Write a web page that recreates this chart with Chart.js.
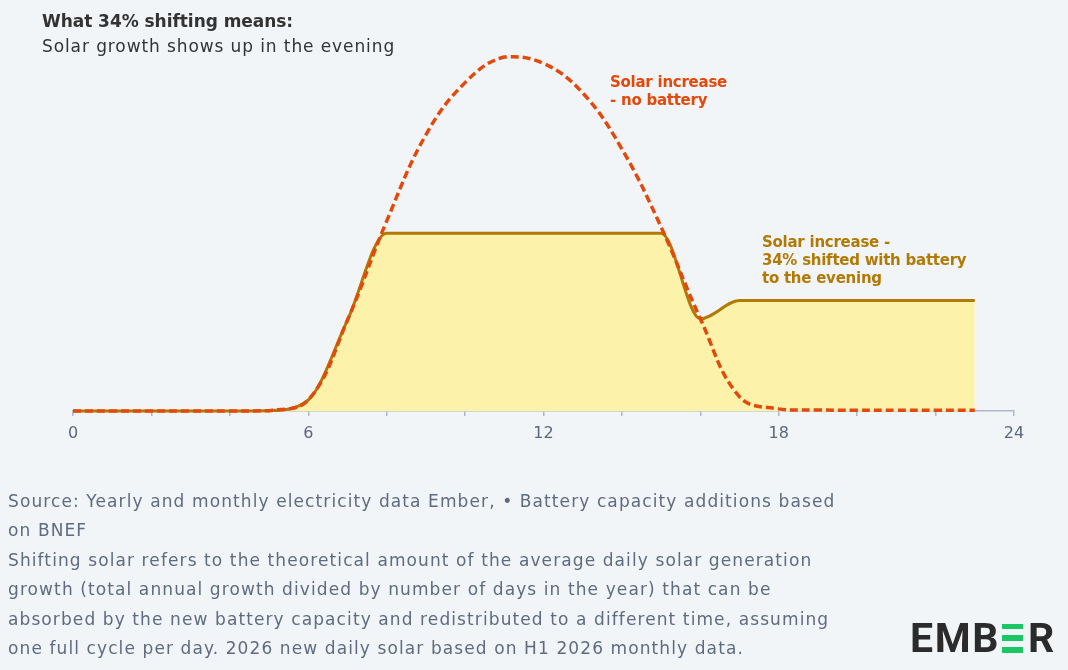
<!DOCTYPE html>
<html>
<head>
<meta charset="utf-8">
<script src="https://cdn.jsdelivr.net/npm/chart.js@4.4.1/dist/chart.umd.min.js"></script>
<style>
  html, body { margin: 0; padding: 0; background: #F1F5F8; }
  body { width: 1068px; height: 670px; position: relative; overflow: hidden; font-family: "DejaVu Sans", sans-serif; }
  #wrap { position: absolute; left: 0; top: 0; width: 1068px; height: 670px; }
  .title { position: absolute; left: 42px; top: 9px; font-size: 17px; color: #333333; line-height: 25px; letter-spacing: 0.9px; white-space: nowrap; }
  .title b { font-weight: 700; letter-spacing: -0.05px; }
  .note { position: absolute; font-size: 15px; font-weight: 700; line-height: 18px; letter-spacing: -0.25px; }
  #noteRed { left: 610px; top: 73px; color: #E2490B; }
  #noteBrown { left: 762px; top: 233px; color: #B27A05; }
  .foot { position: absolute; left: 8px; top: 487px; font-size: 17px; color: #5F6B80; line-height: 29.4px; letter-spacing: 1.1px; white-space: nowrap; }
  #logo { position: absolute; left: 910px; top: 615px; display: flex; align-items: center; font-family: "Roboto", sans-serif; font-weight: 700; font-size: 41px; color: #2B2B2B; letter-spacing: 1.6px; line-height: 46px; }
  #logo .bars { display: inline-flex; flex-direction: column; justify-content: space-between; width: 21px; height: 29px; margin: 0 5px 0 2px; }
  #logo .bars i { display: block; height: 5.5px; background: #19C864; }
</style>
</head>
<body>
<div id="wrap"><canvas id="c" width="1068" height="670"></canvas></div>
<div class="title"><b>What 34% shifting means:</b><br>Solar growth shows up in the evening</div>
<div class="note" id="noteRed">Solar increase<br>- no battery</div>
<div class="note" id="noteBrown">Solar increase -<br>34% shifted with battery<br>to the evening</div>
<div class="foot">Source: Yearly and monthly electricity data Ember, • Battery capacity additions based<br>on BNEF<br>Shifting solar refers to the theoretical amount of the average daily solar generation<br>growth (total annual growth divided by number of days in the year) that can be<br>absorbed by the new battery capacity and redistributed to a different time, assuming<br>one full cycle per day. 2026 new daily solar based on H1 2026 monthly data.</div>
<div id="logo"><span>EMB</span><span class="bars"><i></i><i></i><i></i></span><span>R</span></div>
<script>
// heures de la journée
const hours = [0, 1, 2, 3, 4, 5, 6, 7, 8, 9, 10, 11, 12, 13, 14, 15, 16, 17, 18, 19, 20, 21, 22, 23];
// solar increase, no battery (relative units)
const noBattery = [0, 0, 0, 0, 0, 0.1, 3.1, 25.6, 53.5, 77.8, 92.5, 99.7, 97.9, 89.6, 73.8, 51.8, 26.0, 4.0, 0.6, 0.3, 0.2, 0.2, 0.2, 0.2];
// solar increase, 34% shifted with battery
const withBattery = [0, 0, 0, 0, 0, 0.1, 3.1, 25.6, 50.1, 50.1, 50.1, 50.1, 50.1, 50.1, 50.1, 50.1, 26.0, 31.1, 31.1, 31.1, 31.1, 31.1, 31.1, 31.1];
const tickLabels = [0, 6, 12, 18, 24];

const toPoints = arr => hours.map((h, i) => ({ x: h, y: arr[i] }));

new Chart(document.getElementById("c"), {
    type: "line",
    data: {
        datasets: [
            {
                label: "Solar increase - no battery",
                data: toPoints(noBattery),
                borderColor: "#E2490B",
                borderWidth: 3.5,
                borderDash: [8, 4],
                pointRadius: 0,
                fill: false,
                tension: 0.4,
                clip: false,
                order: 0
            },
            {
                label: "Solar increase - 34% shifted",
                data: toPoints(withBattery),
                borderColor: "#B27A05",
                borderWidth: 3,
                backgroundColor: "#FDF2AA",
                pointRadius: 0,
                fill: "origin",
                cubicInterpolationMode: "monotone",
                clip: false,
                order: 1
            }
        ]
    },
    options: {
        responsive: false,
        animation: false,
        devicePixelRatio: 1,
        layout: { padding: { left: 73, right: 54, top: 56, bottom: 229 } },
        plugins: { legend: { display: false }, tooltip: { enabled: false } },
        scales: {
            x: {
                type: "linear",
                min: 0,
                max: 24,
                grid: { drawOnChartArea: false, color: "#AEB7C5", tickLength: 5, lineWidth: 1.5 },
                border: { display: true, color: "#AEB7C5", width: 1.5 },
                ticks: {
                    stepSize: 2,
                    color: "#5C6780",
                    font: { family: "DejaVu Sans", size: 16 },
                    padding: 8,
                    maxRotation: 0,
                    autoSkip: false,
                    callback: v => tickLabels.includes(v) ? String(v) : ""
                },
                afterFit: s => { s.height = 30; }
            },
            y: {
                display: false,
                min: 0,
                max: 100
            }
        }
    }
});
</script>
</body>
</html>
